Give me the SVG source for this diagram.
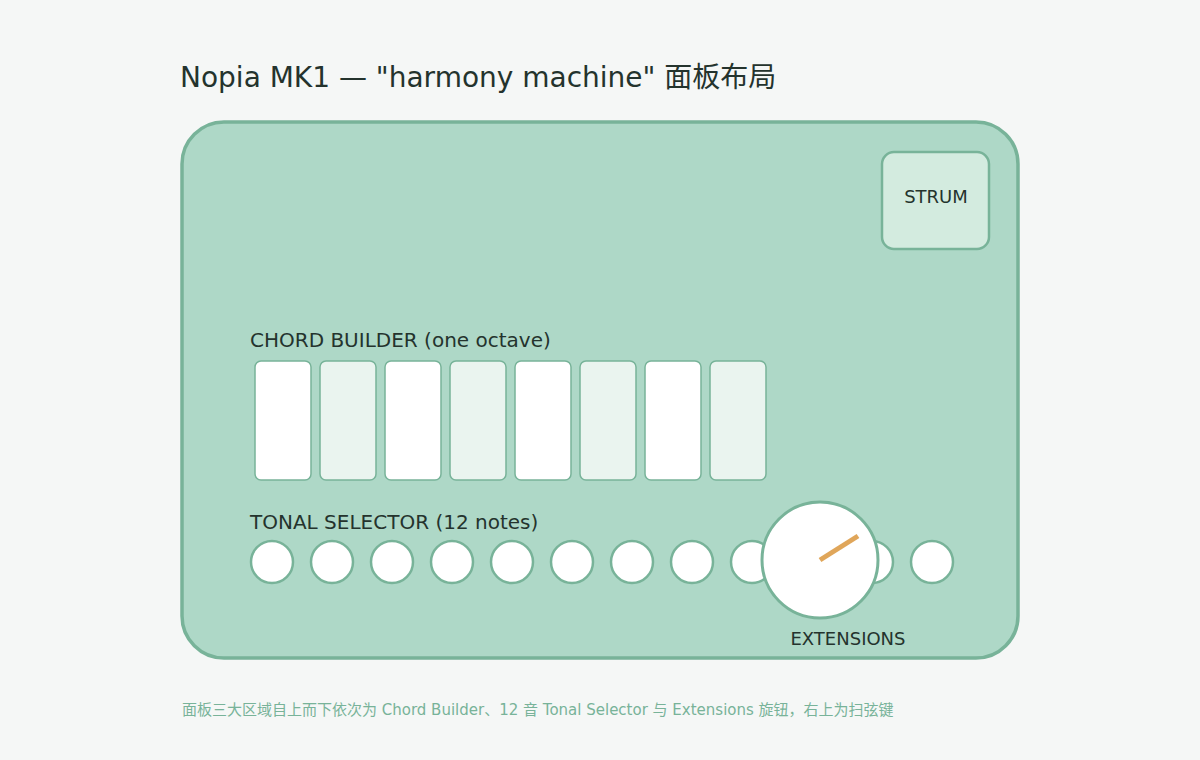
<svg xmlns="http://www.w3.org/2000/svg" width="1200" height="760" viewBox="0 0 1200 760">
<style>
  text { font-family: "DejaVu Sans", "Noto Sans CJK SC", sans-serif; fill: #24332d; }
  .title { font-size: 28px; }
  .label { font-size: 20px; }
  .small { font-size: 18px; }
  .caption { font-size: 15px; fill: #78b399; }
  .panel { fill: #aed8c7; stroke: #78b399; stroke-width: 3.5; }
  .strum { fill: #d3ebdf; stroke: #78b399; stroke-width: 2.5; }
  .keyw { fill: #ffffff; stroke: #78b399; stroke-width: 1.5; }
  .keyl { fill: #eaf4ef; stroke: #78b399; stroke-width: 1.5; }
  .note { fill: #ffffff; stroke: #78b399; stroke-width: 2.5; }
  .knob { fill: #ffffff; stroke: #78b399; stroke-width: 3; }
  .pointer { stroke: #e0a65a; stroke-width: 5; }
</style>
<rect x="0" y="0" width="1200" height="760" fill="#f5f7f6"/>
<text class="title" x="180" y="87">Nopia MK1 — "harmony machine" 面板布局</text>

<g id="panel">
  <rect class="panel" x="182" y="122" width="836" height="536" rx="42"/>
</g>

<g id="strum">
  <rect class="strum" x="882" y="152" width="107" height="97" rx="12"/>
  <text class="small" x="936" y="203" text-anchor="middle">STRUM</text>
</g>

<g id="chord-builder">
  <text class="label" x="250" y="347">CHORD BUILDER (one octave)</text>
  <rect class="keyw" x="255" y="361" width="56" height="119" rx="6"/>
  <rect class="keyl" x="320" y="361" width="56" height="119" rx="6"/>
  <rect class="keyw" x="385" y="361" width="56" height="119" rx="6"/>
  <rect class="keyl" x="450" y="361" width="56" height="119" rx="6"/>
  <rect class="keyw" x="515" y="361" width="56" height="119" rx="6"/>
  <rect class="keyl" x="580" y="361" width="56" height="119" rx="6"/>
  <rect class="keyw" x="645" y="361" width="56" height="119" rx="6"/>
  <rect class="keyl" x="710" y="361" width="56" height="119" rx="6"/>
</g>

<g id="tonal-selector">
  <text class="label" x="250" y="529">TONAL SELECTOR (12 notes)</text>
  <circle class="note" cx="272" cy="562" r="21"/>
  <circle class="note" cx="332" cy="562" r="21"/>
  <circle class="note" cx="392" cy="562" r="21"/>
  <circle class="note" cx="452" cy="562" r="21"/>
  <circle class="note" cx="512" cy="562" r="21"/>
  <circle class="note" cx="572" cy="562" r="21"/>
  <circle class="note" cx="632" cy="562" r="21"/>
  <circle class="note" cx="692" cy="562" r="21"/>
  <circle class="note" cx="752" cy="562" r="21"/>
  <circle class="note" cx="812" cy="562" r="21"/>
  <circle class="note" cx="872" cy="562" r="21"/>
  <circle class="note" cx="932" cy="562" r="21"/>
</g>

<g id="extensions">
  <circle class="knob" cx="820" cy="560" r="58"/>
  <line class="pointer" x1="820" y1="560" x2="858" y2="536"/>
  <text class="small" x="848" y="645" text-anchor="middle">EXTENSIONS</text>
</g>

<g id="connectors"></g>

<text class="caption" x="182" y="715">面板三大区域自上而下依次为 Chord Builder、12 音 Tonal Selector 与 Extensions 旋钮，右上为扫弦键</text>
</svg>
